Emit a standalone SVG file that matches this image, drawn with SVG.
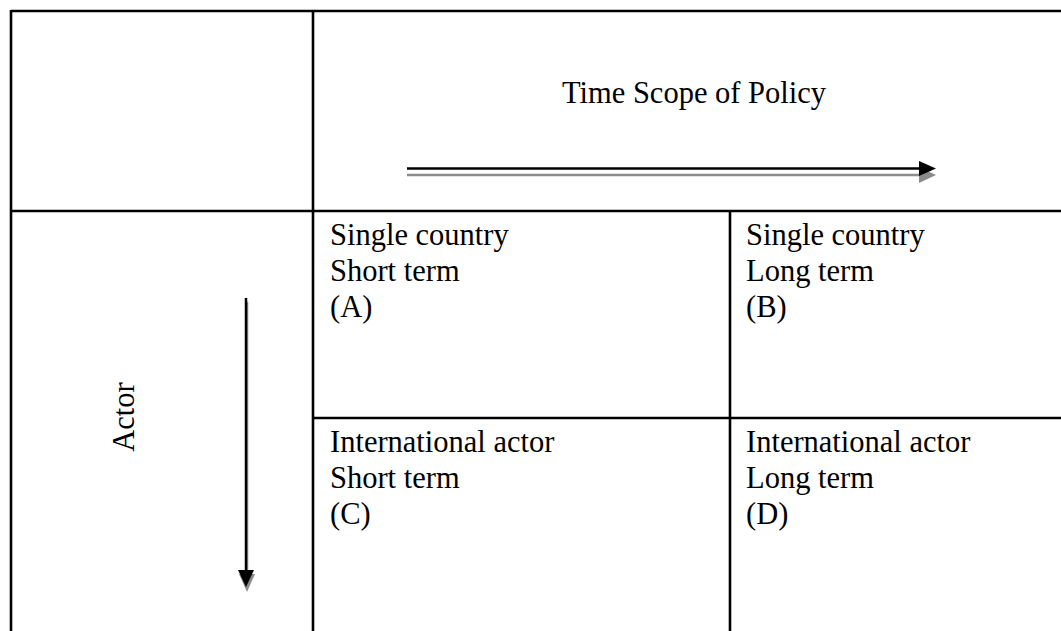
<svg xmlns="http://www.w3.org/2000/svg" width="1061" height="631" viewBox="0 0 1061 631">
<style>
.grid{stroke:#000;stroke-width:2.6;fill:none}
.t{font-family:"Liberation Serif","Times New Roman",serif;font-size:30.5px;fill:#000}
.shadow{stroke:#8c8c8c;fill:#8c8c8c}
.ink{stroke:#000;fill:#000}
</style>
<rect width="1061" height="631" fill="#fff"/>
<g id="table">
<line class="grid" x1="11" y1="11" x2="1061" y2="11"/>
<line class="grid" x1="11" y1="211" x2="1061" y2="211"/>
<line class="grid" x1="313" y1="418" x2="1061" y2="418"/>
<line class="grid" x1="11" y1="10" x2="11" y2="631"/>
<line class="grid" x1="313" y1="10" x2="313" y2="631"/>
<line class="grid" x1="730" y1="211" x2="730" y2="631"/>
</g>
<g id="header">
<text class="t" x="694" y="103" text-anchor="middle">Time Scope of Policy</text>
</g>
<g id="actor">
<text class="t" transform="translate(134,417) rotate(-90)" text-anchor="middle">Actor</text>
</g>
<g id="cellA">
<text class="t" x="330" y="245">Single country</text>
<text class="t" x="330" y="281">Short term</text>
<text class="t" x="330" y="317">(A)</text>
</g>
<g id="cellB">
<text class="t" x="746" y="245">Single country</text>
<text class="t" x="746" y="281">Long term</text>
<text class="t" x="746" y="317">(B)</text>
</g>
<g id="cellC">
<text class="t" x="330" y="452">International actor</text>
<text class="t" x="330" y="488">Short term</text>
<text class="t" x="330" y="524">(C)</text>
</g>
<g id="cellD">
<text class="t" x="746" y="452">International actor</text>
<text class="t" x="746" y="488">Long term</text>
<text class="t" x="746" y="524">(D)</text>
</g>
<g id="connectors">
<line class="shadow" x1="407" y1="175" x2="922" y2="175" stroke-width="2.5"/>
<polygon class="shadow" points="919,167 936,175 919,183" stroke-width="0"/>
<line class="ink" x1="407" y1="168.5" x2="922" y2="168.5" stroke-width="2.5"/>
<polygon class="ink" points="919,161 936,168.5 919,176" stroke-width="0"/>
<line class="shadow" x1="247" y1="302" x2="247" y2="575" stroke-width="2.5"/>
<polygon class="shadow" points="239,574 247,592 255,574" stroke-width="0"/>
<line class="ink" x1="246" y1="298" x2="246" y2="572" stroke-width="2.5"/>
<polygon class="ink" points="238,570 246,587 254,570" stroke-width="0"/>
</g>
</svg>
